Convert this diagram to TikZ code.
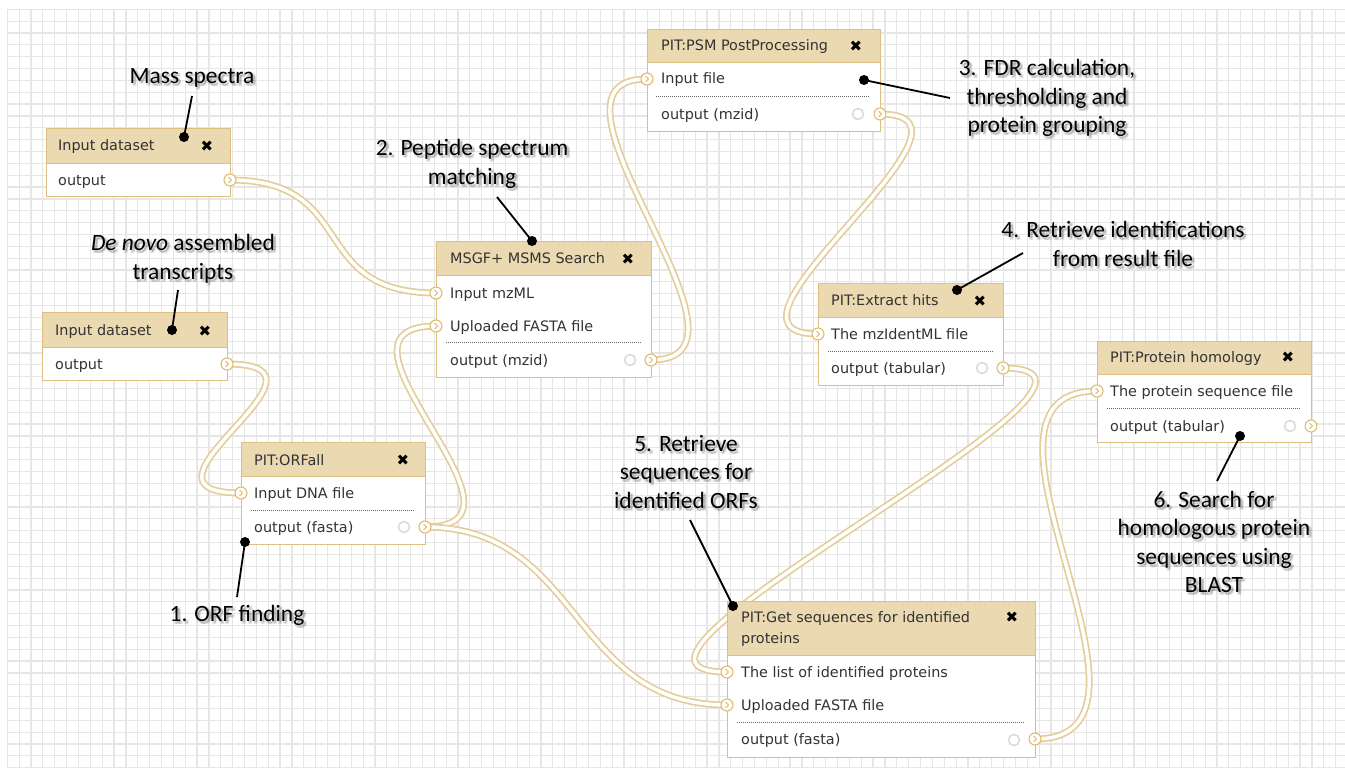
\documentclass[tikz,border=0pt]{standalone}
\usepackage{fontspec}
\setmainfont{Carlito}
\newfontfamily\nodefont{DejaVu Sans}
\usetikzlibrary{calc}
\definecolor{headtan}{HTML}{EBD9B2}
\definecolor{boxborder}{HTML}{DDBF80}
\definecolor{conntan}{HTML}{E4CD98}
\definecolor{porttan}{HTML}{DDB868}
\definecolor{txtgray}{HTML}{333333}
\definecolor{gridgray}{HTML}{E6E6E6}
\pgfdeclarelayer{gridlayer}
\pgfdeclarelayer{connlayer}
\pgfsetlayers{gridlayer,connlayer,main}
\tikzset{
  gridline/.style={draw=gridgray, line width=1.2pt},
  body/.style={draw=boxborder, fill=white, line width=1pt, anchor=north west, inner sep=0pt, rectangle},
  head/.style={draw=boxborder, fill=headtan, line width=1pt, anchor=north west, inner sep=0pt, rectangle},
  lbl/.style={anchor=base west, font=\nodefont\fontsize{14.4}{17}\selectfont, text=txtgray, inner sep=0pt},
  xmark/.style={font=\nodefont\fontsize{15}{15}\selectfont, text=black, inner sep=0pt},
  sep/.style={draw=black!60, line width=0.8pt, dash pattern=on 1pt off 1pt},
  port/.style={circle, draw=porttan, fill=white, line width=1pt, minimum size=12pt, inner sep=0pt,
    path picture={\draw[porttan, line width=1pt]
      ($(path picture bounding box.center)+(-1.5,-3)$) -- ($(path picture bounding box.center)+(1.5,0)$) -- ($(path picture bounding box.center)+(-1.5,3)$);}},
  icon/.style={circle, draw=black!14, line width=1.6pt, minimum size=11pt, inner sep=0pt},
  conn/.style={draw=conntan, line width=1.7pt, double=white, double distance=3.5pt},
  annot/.style={font=\fontsize{23.4}{28.5}\selectfont, align=center, inner sep=0pt, text=black},
  annotsh/.style={annot, text opacity=0.1},
  callout/.style={draw=black, line width=1.8pt},
  dot/.style={circle, fill=black, minimum size=10pt, inner sep=0pt},
}
\newcommand\annot[3]{%
  \node[annotsh] (#1s1) at ($(#2)+(2,2)$) {#3};
  \node[annotsh] (#1s2) at ($(#2)+(3,3)$) {#3};
  \node[annotsh] (#1s3) at ($(#2)+(1,3)$) {#3};
  \node[annotsh] (#1s4) at ($(#2)+(3,1)$) {#3};
  \node[annot] (#1) at (#2) {#3};}
\begin{document}
\begin{tikzpicture}[x=1pt,y=-1pt]
\useasboundingbox (0,0) rectangle (1345,768);
\begin{pgfonlayer}{gridlayer}
\fill[white] (0,0) rectangle (1345,768);
\foreach \i in {0,...,112} \draw[gridline] (7.3+\i*11.86, 9.3) -- (7.3+\i*11.86, 768);
\foreach \j in {0,...,64} \draw[gridline] (7.3, 9.3+\j*11.85) -- (1345, 9.3+\j*11.85);
\end{pgfonlayer}

% Input dataset 1
\node[body, minimum width=184, minimum height=68] (in1) at (46,128) {};
\node[head, minimum width=184, minimum height=35] (in1h) at (46,128) {};
\node[lbl] (in1t) at (58,150) {Input dataset};
\node[xmark] (in1x) at (207,146) {✖};
\node[lbl] (in1r) at (58,185) {output};
\node[port] (in1p) at (230,180) {};

% Input dataset 2
\node[body, minimum width=185, minimum height=68] (in2) at (42,312) {};
\node[head, minimum width=185, minimum height=35] (in2h) at (42,312) {};
\node[lbl] (in2t) at (55,335) {Input dataset};
\node[xmark] (in2x) at (205,331) {✖};
\node[lbl] (in2r) at (55,369) {output};
\node[port] (in2p) at (227,364) {};

% ORFall
\node[body, minimum width=184, minimum height=102] (orf) at (241,442) {};
\node[head, minimum width=184, minimum height=34] (orfh) at (241,442) {};
\node[lbl] (orft) at (254,465) {PIT:ORFall};
\node[xmark] (orfx) at (403,460) {✖};
\node[lbl] (orfr1) at (254,498) {Input DNA file};
\draw[sep] (251,510) -- (415,510);
\node[lbl] (orfr2) at (254,532) {output (fasta)};
\node[icon] (orfi) at (404,527) {};
\node[port] (orfp1) at (241,493) {};
\node[port] (orfp2) at (425,527) {};

% MSGF+
\node[body, minimum width=215, minimum height=136] (msgf) at (436,241) {};
\node[head, minimum width=215, minimum height=34] (msgfh) at (436,241) {};
\node[lbl] (msgft) at (450,263) {MSGF+ MSMS Search};
\node[xmark] (msgfx) at (628,259) {✖};
\node[lbl] (msgfr1) at (450,298) {Input mzML};
\node[lbl] (msgfr2) at (450,331) {Uploaded FASTA file};
\draw[sep] (446,342) -- (641,342);
\node[lbl] (msgfr3) at (450,365) {output (mzid)};
\node[icon] (msgfi) at (630,360) {};
\node[port] (msgfp1) at (436,293) {};
\node[port] (msgfp2) at (436,326) {};
\node[port] (msgfp3) at (651,360) {};

% PSM PostProcessing
\node[body, minimum width=233, minimum height=102] (psm) at (647,29) {};
\node[head, minimum width=233, minimum height=33] (psmh) at (647,29) {};
\node[lbl] (psmt) at (661,51) {PIT:PSM PostProcessing};
\node[xmark] (psmx) at (856,46) {✖};
\node[lbl] (psmr1) at (661,84) {Input file};
\draw[sep] (656,96) -- (870,96);
\node[lbl] (psmr2) at (661,119) {output (mzid)};
\node[icon] (psmi) at (858,114) {};
\node[port] (psmp1) at (647,79) {};
\node[port] (psmp2) at (880,114) {};

% Extract hits
\node[body, minimum width=185, minimum height=102] (ext) at (818,283) {};
\node[head, minimum width=185, minimum height=34] (exth) at (818,283) {};
\node[lbl] (extt) at (831,305) {PIT:Extract hits};
\node[xmark] (extx) at (980,301) {✖};
\node[lbl] (extr1) at (831,339) {The mzIdentML file};
\draw[sep] (828,351) -- (993,351);
\node[lbl] (extr2) at (831,373) {output (tabular)};
\node[icon] (exti) at (982,368) {};
\node[port] (extp1) at (818,334) {};
\node[port] (extp2) at (1003,368) {};

% Protein homology
\node[body, minimum width=214, minimum height=101] (hom) at (1097,341) {};
\node[head, minimum width=214, minimum height=33] (homh) at (1097,341) {};
\node[lbl] (homt) at (1110,362) {PIT:Protein homology};
\node[xmark] (homx) at (1288,357) {✖};
\node[lbl] (homr1) at (1110,396) {The protein sequence file};
\draw[sep] (1107,408) -- (1301,408);
\node[lbl] (homr2) at (1110,431) {output (tabular)};
\node[icon] (homi) at (1290,426) {};
\node[port] (homp1) at (1097,391) {};
\node[port] (homp2) at (1311,426) {};

% Get sequences
\node[body, minimum width=308, minimum height=156] (gs) at (727,601) {};
\node[head, minimum width=308, minimum height=54] (gsh) at (727,601) {};
\node[lbl] (gst1) at (741,622) {PIT:Get sequences for identified};
\node[lbl] (gst2) at (741,643) {proteins};
\node[xmark] (gsx) at (1012,617) {✖};
\node[lbl] (gsr1) at (741,677) {The list of identified proteins};
\node[lbl] (gsr2) at (741,710) {Uploaded FASTA file};
\draw[sep] (737,722) -- (1025,722);
\node[lbl] (gsr3) at (741,744) {output (fasta)};
\node[icon] (gsi) at (1014,740) {};
\node[port] (gsp1) at (727,672) {};
\node[port] (gsp2) at (727,705) {};
\node[port] (gsp3) at (1035,739) {};

% connectors
\begin{pgfonlayer}{connlayer}
\draw[conn] (in1p.center) .. controls +(130,0) and +(-130,0) .. (msgfp1.center);
\draw[conn] (in2p.center) .. controls +(130,0) and +(-130,0) .. (orfp1.center);
\draw[conn] (orfp2.center) .. controls +(130,0) and +(-130,0) .. (msgfp2.center);
\draw[conn] (orfp2.center) .. controls +(158,0) and +(-158,0) .. (gsp2.center);
\draw[conn] (msgfp3.center) .. controls +(130,0) and +(-130,0) .. (psmp1.center);
\draw[conn] (psmp2.center) .. controls +(130,0) and +(-130,0) .. (extp1.center);
\draw[conn] (extp2.center) .. controls +(180,0) and +(-180,0) .. (gsp1.center);
\draw[conn] (gsp3.center) .. controls +(158,0) and +(-158,0) .. (homp1.center);
\end{pgfonlayer}

% annotations
\annot{aMass}{192,78}{Mass spectra}
\annot{aNovo}{183,259}{\textit{De novo} assembled\\transcripts}
\annot{aPep}{472,164}{2. Peptide spectrum\\matching}
\annot{aFdr}{1047,98}{3. FDR calculation,\\thresholding and\\protein grouping}
\annot{aRet}{1123,244}{4. Retrieve identifications\\from result file}
\annot{aSeq}{686,472}{5. Retrieve\\sequences for\\identified ORFs}
\annot{aBlast}{1214,542}{6. Search for\\homologous protein\\sequences using\\BLAST}
\annot{aOrf}{237,615}{1. ORF finding}

\coordinate (k1a) at (192,96);   \coordinate (k1b) at (184,137);
\coordinate (k2a) at (178,290);  \coordinate (k2b) at (172,330);
\coordinate (k3a) at (497,197);  \coordinate (k3b) at (532,241);
\coordinate (k4a) at (950,98);   \coordinate (k4b) at (864,80);
\coordinate (k5a) at (1023,253); \coordinate (k5b) at (957,290);
\coordinate (k6a) at (690,520);  \coordinate (k6b) at (733,606);
\coordinate (k7a) at (1217,481); \coordinate (k7b) at (1240,436);
\coordinate (k8a) at (237,597);  \coordinate (k8b) at (245,542);
\foreach \k in {1,...,8} {
  \draw[callout] (k\k a) -- (k\k b);
  \node[dot] (kd\k) at (k\k b) {};
}
\end{tikzpicture}
\end{document}
